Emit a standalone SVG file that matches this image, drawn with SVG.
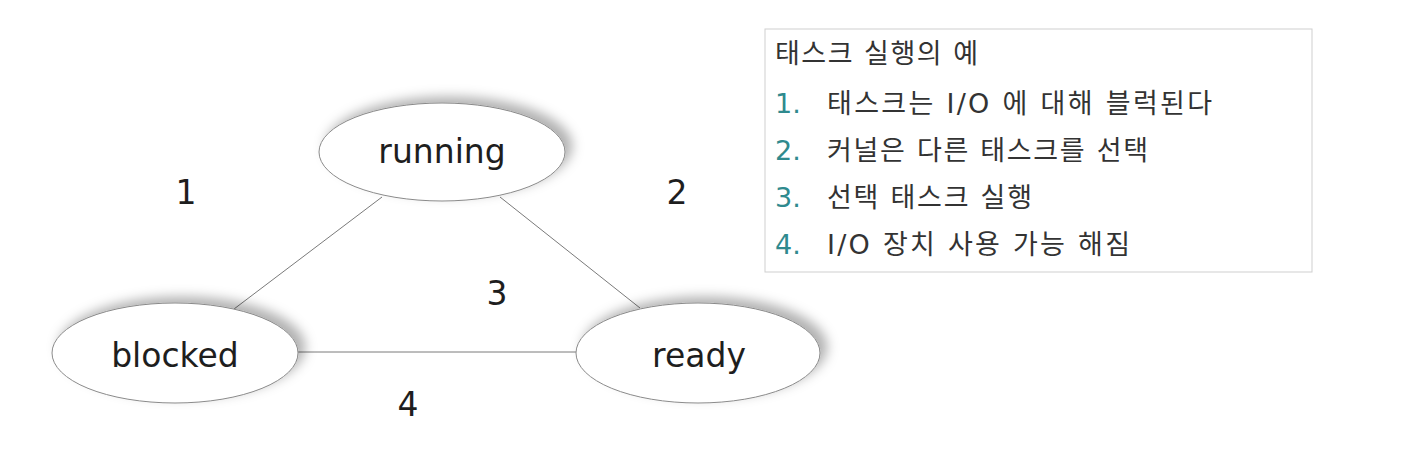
<svg xmlns="http://www.w3.org/2000/svg" width="1401" height="452" viewBox="0 0 1401 452">
<defs>
<filter id="sh" x="-20%" y="-40%" width="140%" height="180%">
<feDropShadow dx="7" dy="-6" stdDeviation="6" flood-color="#000" flood-opacity="0.3"/>
</filter>
<style>
.node ellipse{fill:#fff;stroke:#8a8a8a;stroke-width:1;filter:url(#sh)}
.lbl{font-family:"DejaVu Sans","Noto Sans CJK KR",sans-serif;font-size:33px;fill:#1e1e1e;text-anchor:middle}
.edge{stroke:#7a7a7a;stroke-width:1;fill:none}
.kr{font-family:"DejaVu Sans","Noto Sans CJK KR",sans-serif;font-size:27px;fill:#333}
.num{font-family:"DejaVu Sans",sans-serif;font-size:27px;fill:#2f8a8e}
</style>
</defs>
<rect width="1401" height="452" fill="#fff"/>
<g id="connectors">
<line class="edge" x1="382" y1="197" x2="234" y2="309"/>
<line class="edge" x1="500" y1="197" x2="640" y2="308"/>
<line class="edge" x1="298" y1="352" x2="576" y2="352"/>
</g>
<g id="node-running" class="node">
<ellipse cx="442" cy="152" rx="123" ry="49"/>
<text class="lbl" x="442" y="163">running</text>
</g>
<g id="node-blocked" class="node">
<ellipse cx="175" cy="353" rx="123" ry="50"/>
<text class="lbl" x="175" y="367">blocked</text>
</g>
<g id="node-ready" class="node">
<ellipse cx="698" cy="353" rx="122" ry="50"/>
<text class="lbl" x="699" y="367">ready</text>
</g>
<g id="edge-labels">
<text class="lbl" x="186" y="204">1</text>
<text class="lbl" x="677" y="204">2</text>
<text class="lbl" x="497" y="305">3</text>
<text class="lbl" x="408" y="416">4</text>
</g>
<g id="legend">
<rect x="765" y="29" width="547" height="243" fill="#fff" stroke="#cfcfcf" stroke-width="1"/>
<text class="kr" x="775" y="63" textLength="203" lengthAdjust="spacing">태스크 실행의 예</text>
<text class="num" x="775" y="113">1.</text>
<text class="kr" x="827" y="113" textLength="385" lengthAdjust="spacing">태스크는 I/O 에 대해 블럭된다</text>
<text class="num" x="775" y="160">2.</text>
<text class="kr" x="827" y="160" textLength="321" lengthAdjust="spacing">커널은 다른 태스크를 선택</text>
<text class="num" x="775" y="207">3.</text>
<text class="kr" x="827" y="207" textLength="205" lengthAdjust="spacing">선택 태스크 실행</text>
<text class="num" x="775" y="254">4.</text>
<text class="kr" x="827" y="254" textLength="303" lengthAdjust="spacing">I/O 장치 사용 가능 해짐</text>
</g>
</svg>
